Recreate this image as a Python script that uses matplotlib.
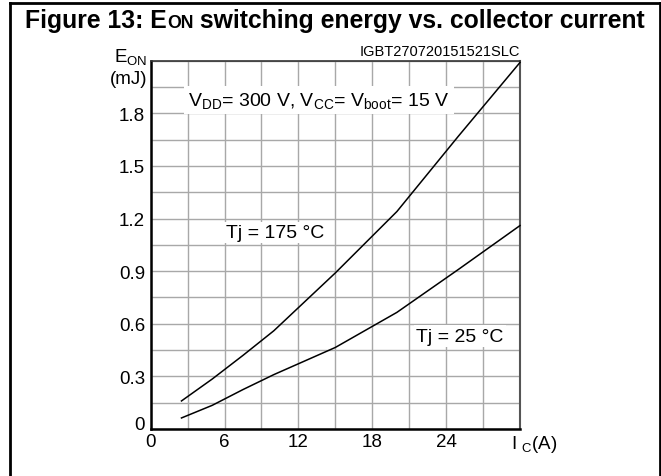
import matplotlib
matplotlib.use("Agg")
import matplotlib.pyplot as plt
from matplotlib.lines import Line2D
import numpy as np

# ---- data ----
ic_175 = [2.5, 5, 7.5, 10, 15, 20, 25, 30]
eon_175 = [0.16, 0.285, 0.42, 0.56, 0.89, 1.24, 1.67, 2.09]
ic_25 = [2.5, 5, 7.5, 10, 15, 20, 25, 30]
eon_25 = [0.063, 0.135, 0.225, 0.31, 0.465, 0.665, 0.91, 1.16]
xticks = [0, 6, 12, 18, 24]
xtick_labels = ["0", "6", "12", "18", "24"]
yticks = [0, 0.3, 0.6, 0.9, 1.2, 1.5, 1.8]
ytick_labels = ["0", "0.3", "0.6", "0.9", "1.2", "1.5", "1.8"]

plt.rcParams['font.family'] = ['Liberation Sans', 'DejaVu Sans']
plt.rcParams['mathtext.fontset'] = 'custom'
plt.rcParams['mathtext.rm'] = 'Liberation Sans'
plt.rcParams['mathtext.it'] = 'Liberation Sans:italic'
plt.rcParams['mathtext.bf'] = 'Liberation Sans:bold'

W, H = 661, 477
fig = plt.figure(figsize=(W / 100, H / 100), dpi=100)
ax = fig.add_axes([150.7 / W, (H - 430) / H, (520 - 150.7) / W, (430 - 61.7) / H])

ax.set_xlim(0, 30)
ax.set_ylim(0, 2.1)
ax.set_xticks(xticks)
ax.set_xticklabels(xtick_labels)
ax.set_yticks(yticks)
ax.set_yticklabels(ytick_labels)
ax.set_xticks(np.arange(0, 31, 3), minor=True)
ax.set_yticks(np.arange(0, 2.11, 0.15), minor=True)
ax.tick_params(which='both', length=0, labelsize=13.5)
ax.tick_params(axis='x', pad=3)
ax.tick_params(axis='y', pad=4)
ax.yaxis.get_ticklabels()[0].set_verticalalignment('baseline')
ax.grid(which='both', color='#a8a8a8', lw=1.0)
ax.set_axisbelow(True)

for s in ['left', 'bottom']:
    ax.spines[s].set_linewidth(1.8)
    ax.spines[s].set_color('black')
ax.spines['top'].set_linewidth(1.2)
ax.spines['top'].set_color('#333333')
ax.spines['right'].set_linewidth(1.5)
ax.spines['right'].set_color('#555555')

ax.plot(ic_175, eon_175, color='black', lw=1.1, clip_on=False, zorder=3)
ax.plot(ic_25, eon_25, color='black', lw=1.1, clip_on=False, zorder=3)

bb = dict(facecolor='white', edgecolor='none', pad=1.5)
ax.text(10.1, 1.12, "Tj = 175 °C", fontsize=14, ha='center', va='center', bbox=bb, zorder=2)
ax.text(25.1, 0.53, "Tj = 25 °C", fontsize=14, ha='center', va='center', bbox=bb, zorder=2)
ax.text(3.05, 1.875, r"V$_{\mathrm{DD}}$= 300 V, V$_{\mathrm{CC}}$= V$_{\mathrm{boot}}$= 15 V",
        fontsize=14, ha='left', va='center', bbox=dict(facecolor='white', edgecolor='none', pad=3), zorder=2)

ax.text(1.0, 1.008, "IGBT270720151521SLC", fontsize=10.5, ha='right', va='bottom', transform=ax.transAxes)

ax.text(-0.009, 1.0, r"E$_{\mathrm{ON}}$", fontsize=13.5, ha='right', va='baseline', transform=ax.transAxes)
ax.text(-0.009, 0.939, "(mJ)", fontsize=13.5, ha='right', va='baseline', transform=ax.transAxes)
ax.text(0.976, -0.012, r"I $_{\mathrm{C}}$(A)", fontsize=13.5, ha='left', va='top', transform=ax.transAxes)

# title in pieces
fig.canvas.draw()
r = fig.canvas.get_renderer()
ty = 1 - 28 / H
t1 = fig.text(25 / W, ty, "Figure 13: E", fontsize=17.8, fontweight='bold', va='baseline', ha='left')
e1 = t1.get_window_extent(r)
t2 = fig.text(e1.x1 / W, ty, "ON", fontsize=12.8, fontweight='bold', va='baseline', ha='left')
e2 = t2.get_window_extent(r)
t3 = fig.text(e2.x1 / W, ty, " switching energy vs. collector current", fontsize=17.8,
              fontweight='bold', va='baseline', ha='left')

# frame lines
lw = 2.0
fig.add_artist(Line2D([10 / W, 10 / W], [0, 1 - 3.5 / H], transform=fig.transFigure, color='k', lw=lw))
fig.add_artist(Line2D([10 / W, 1], [1 - 3.5 / H, 1 - 3.5 / H], transform=fig.transFigure, color='k', lw=lw))
fig.add_artist(Line2D([659.5 / W, 659.5 / W], [0, 1 - 3.5 / H], transform=fig.transFigure, color='k', lw=lw))

fig.savefig("out.png", dpi=100)
